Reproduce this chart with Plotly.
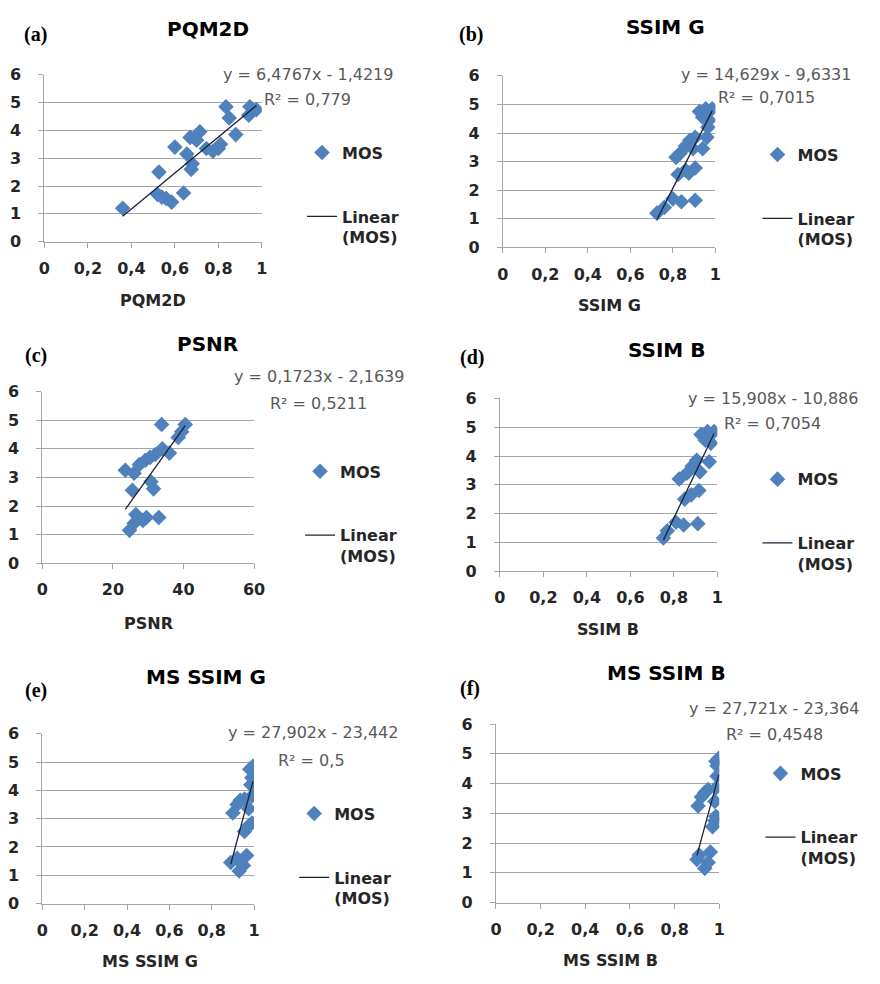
import plotly.graph_objects as go

W, H = 880, 984

# ---------------- data ----------------
panel_letters = ["(a)", "(b)", "(c)", "(d)", "(e)", "(f)"]
panel_titles = ["PQM2D", "SSIM G", "PSNR", "SSIM B", "MS SSIM G", "MS SSIM B"]
x_titles = ["PQM2D", "SSIM G", "PSNR", "SSIM B", "MS SSIM G", "MS SSIM B"]
x_ranges = [[0, 1], [0, 1], [0, 60], [0, 1], [0, 1], [0, 1]]
x_dticks = [0.2, 0.2, 20, 0.2, 0.2, 0.2]
y_ticks = [0, 1, 2, 3, 4, 5, 6]

pqm2d_x = [0.36, 0.52, 0.54, 0.56, 0.585, 0.64, 0.527, 0.675, 0.68, 0.60, 0.655, 0.67,
           0.70, 0.715, 0.745, 0.775, 0.80, 0.81, 0.835, 0.85, 0.88, 0.945, 0.94, 0.975]
pqm2d_mos = [1.2, 1.7, 1.6, 1.55, 1.42, 1.75, 2.5, 2.6, 2.8, 3.4, 3.15, 3.75,
             3.65, 3.95, 3.35, 3.25, 3.35, 3.5, 4.85, 4.45, 3.85, 4.85, 4.55, 4.75]

ssimg_x = [0.725, 0.76, 0.80, 0.84, 0.905, 0.825, 0.86, 0.905, 0.875, 0.815, 0.835, 0.86,
           0.88, 0.905, 0.895, 0.94, 0.96, 0.925, 0.955, 0.985, 0.97, 0.94, 0.965]
ssimg_mos = [1.2, 1.4, 1.7, 1.6, 1.65, 2.55, 2.7, 2.78, 2.6, 3.15, 3.3, 3.55,
             3.75, 3.85, 3.45, 3.45, 3.85, 4.75, 4.85, 4.85, 4.45, 4.55, 4.2]

psnr_x = [24.7, 26.0, 26.5, 28.5, 29.5, 33.0, 25.5, 30.8, 31.5, 23.5, 26.0, 27.5,
          29.2, 30.5, 32.0, 34.0, 36.0, 33.8, 38.5, 39.5, 40.5]
psnr_mos = [1.15, 1.4, 1.7, 1.5, 1.6, 1.6, 2.55, 2.85, 2.6, 3.25, 3.15, 3.45,
            3.6, 3.7, 3.8, 4.0, 3.85, 4.85, 4.4, 4.6, 4.85]

ssimb_x = [0.752, 0.77, 0.81, 0.845, 0.91, 0.85, 0.88, 0.915, 0.825, 0.86, 0.885, 0.905,
           0.92, 0.963, 0.925, 0.955, 0.985, 0.97, 0.945]
ssimb_mos = [1.15, 1.4, 1.7, 1.6, 1.65, 2.5, 2.65, 2.8, 3.2, 3.4, 3.65, 3.85,
             3.45, 3.8, 4.75, 4.85, 4.85, 4.45, 4.55]

msssimg_x = [0.93, 0.89, 0.92, 0.95, 0.965, 0.955, 0.975, 0.99, 0.90, 0.92, 0.935, 0.955,
             0.975, 0.99, 0.985, 0.99, 0.98, 0.995]
msssimg_mos = [1.15, 1.45, 1.6, 1.35, 1.7, 2.55, 2.75, 2.85, 3.2, 3.5, 3.65, 3.7,
               3.35, 3.8, 4.2, 4.45, 4.75, 4.85]

msssimb_x = [0.935, 0.90, 0.91, 0.95, 0.96, 0.97, 0.98, 0.985, 0.905, 0.92, 0.935, 0.95,
             0.98, 0.985, 0.99, 0.99, 0.985, 0.998]
msssimb_mos = [1.15, 1.45, 1.6, 1.35, 1.7, 2.55, 2.75, 2.9, 3.25, 3.55, 3.7, 3.8,
               3.4, 3.85, 4.25, 4.6, 4.75, 4.85]

slopes = [6.4767, 14.629, 0.1723, 15.908, 27.902, 27.721]
intercepts = [-1.4219, -9.6331, -2.1639, -10.886, -23.442, -23.364]
eq_labels = ["y = 6,4767x - 1,4219", "y = 14,629x - 9,6331", "y = 0,1723x - 2,1639",
             "y = 15,908x - 10,886", "y = 27,902x - 23,442", "y = 27,721x - 23,364"]
r2_labels = ["R² = 0,779", "R² = 0,7015", "R² = 0,5211", "R² = 0,7054", "R² = 0,5", "R² = 0,4548"]

series_x = [pqm2d_x, ssimg_x, psnr_x, ssimb_x, msssimg_x, msssimb_x]
series_y = [pqm2d_mos, ssimg_mos, psnr_mos, ssimb_mos, msssimg_mos, msssimb_mos]

# ---------------- layout (screen pixels) ----------------
plot_px = [(38, 260, 67, 237), (506, 723, 68, 243), (36, 252, 390, 565),
           (503, 725, 397, 573), (36, 252, 739, 912), (499, 727, 729, 911)]
title_px = [(205, 20), (672, 18), (205, 341), (673, 348), (203, 681), (673, 677)]
letter_px = [(29, 26), (474, 26), (29, 353), (475, 355), (29, 695), (472, 693)]
xtitle_px = [(149, 297), (615, 302), (144, 626), (613, 633), (146, 971), (616, 970)]
eq_px = [(307, 67), (775, 67), (318, 375), (782, 397), (312, 738), (783, 713)]
r2_px = [(307, 92), (775, 90), (318, 402), (781, 423), (311, 766), (783, 740)]
legend_diamond_px = [(320, 145), (785, 147), (318, 470), (785, 478), (312, 819), (788, 778)]

OFF = 8  # page body margin


def px(x):
    return (x - OFF) / W


def py(y):
    return 1 - (y - OFF) / H


FONT = "DejaVu Sans, Verdana, sans-serif"
MARK = "#4f81bd"
GRID = "#a6a6a6"
TXT = "#262626"

fig = go.Figure()
layout = dict(
    width=W, height=H, margin=dict(l=0, r=0, t=0, b=0),
    paper_bgcolor="white", plot_bgcolor="white",
    separators=", ", showlegend=True,
    font=dict(family=FONT, color=TXT),
)
annotations = []
tickfont = dict(size=16, family=FONT, color=TXT, weight="bold")

for i in range(6):
    sfx = "" if i == 0 else str(i + 1)
    xa, ya = "x" + sfx, "y" + sfx
    leg = "legend" + sfx
    x0, x1, yt, yb = plot_px[i]

    fig.add_trace(go.Scatter(
        x=series_x[i], y=series_y[i], mode="markers", name="MOS",
        marker=dict(symbol="diamond", size=12, color=MARK, line=dict(width=0)),
        xaxis=xa, yaxis=ya, legend=leg, legendgroup="m" + sfx,
    ))
    xmin, xmax = min(series_x[i]), max(series_x[i])
    fig.add_trace(go.Scatter(
        x=[xmin, xmax], y=[slopes[i] * xmin + intercepts[i], slopes[i] * xmax + intercepts[i]],
        mode="lines", name="Linear<br>(MOS)",
        line=dict(color="#1c2333", width=1.3),
        xaxis=xa, yaxis=ya, legend=leg, legendgroup="l" + sfx,
    ))

    layout["xaxis" + sfx] = dict(
        domain=[px(x0), px(x1)], anchor=ya, range=x_ranges[i], dtick=x_dticks[i], tick0=0,
        showgrid=False, zeroline=False, showline=True, linecolor=GRID, linewidth=1,
        ticks="outside", ticklen=5, tickcolor=GRID, ticklabelstandoff=7,
        tickfont=tickfont, fixedrange=True,
    )
    layout["yaxis" + sfx] = dict(
        domain=[py(yb), py(yt)], anchor=xa, range=[0, 6], tickvals=y_ticks,
        showgrid=True, gridcolor=GRID, gridwidth=1, zeroline=False,
        showline=True, linecolor=GRID, linewidth=1,
        ticks="outside", ticklen=5, tickcolor=GRID, ticklabelstandoff=14,
        tickfont=tickfont, fixedrange=True,
    )
    dx, dy = legend_diamond_px[i]
    layout[leg] = dict(
        x=px(dx - 19), y=py(dy - 16), xanchor="left", yanchor="top",
        bgcolor="rgba(0,0,0,0)", borderwidth=0,
        font=dict(size=16, family=FONT, color=TXT, weight="bold"),
        tracegroupgap=40, valign="top", itemwidth=30,
    )

    tx, ty = title_px[i]
    annotations.append(dict(text="<b>" + panel_titles[i] + "</b>", x=px(tx), y=py(ty),
                            xref="paper", yref="paper", showarrow=False,
                            xanchor="center", yanchor="middle",
                            font=dict(size=20, family=FONT, color="black")))
    lx2, ly2 = letter_px[i]
    annotations.append(dict(text="<b>" + panel_letters[i] + "</b>", x=px(lx2), y=py(ly2),
                            xref="paper", yref="paper", showarrow=False,
                            xanchor="center", yanchor="middle",
                            font=dict(size=20, family="Liberation Serif, serif", color="black")))
    ax, ay = xtitle_px[i]
    annotations.append(dict(text="<b>" + x_titles[i] + "</b>", x=px(ax), y=py(ay),
                            xref="paper", yref="paper", showarrow=False,
                            xanchor="center", yanchor="middle",
                            font=dict(size=16, family=FONT, color=TXT)))
    ex, ey = eq_px[i]
    annotations.append(dict(text=eq_labels[i], x=px(ex), y=py(ey),
                            xref="paper", yref="paper", showarrow=False,
                            xanchor="center", yanchor="middle",
                            font=dict(size=16, family=FONT, color="#595959")))
    rx, ry = r2_px[i]
    annotations.append(dict(text=r2_labels[i], x=px(rx), y=py(ry),
                            xref="paper", yref="paper", showarrow=False,
                            xanchor="center", yanchor="middle",
                            font=dict(size=16, family=FONT, color="#595959")))

layout["annotations"] = annotations
fig.update_layout(**layout)
fig.write_html("out.html")
